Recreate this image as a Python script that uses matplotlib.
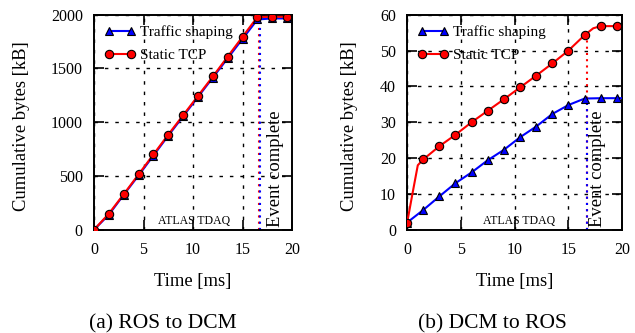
import matplotlib.pyplot as plt
import numpy as np

plt.rcParams['font.family'] = ['Liberation Serif', 'DejaVu Serif']

# marker times (ms)
t_mark = [0, 1.5, 3, 4.5, 6, 7.5, 9, 10.5, 12, 13.5, 15, 16.5, 18, 19.5]

# (a) ROS to DCM
a_shaping = [0, 140, 325, 505, 690, 875, 1055, 1235, 1415, 1595, 1775, 1955, 1965, 1965]
a_static = [0, 150, 330, 515, 700, 885, 1065, 1245, 1425, 1610, 1795, 1978, 1980, 1980]

# (b) DCM to ROS
b_shaping = [2.0, 5.5, 9.3, 13.0, 16.0, 19.4, 22.3, 25.8, 28.8, 32.3, 34.8, 36.6, 36.7, 36.7]
b_static = [1.8, 19.6, 23.3, 26.5, 30.0, 33.2, 36.4, 39.7, 43.0, 46.4, 50.0, 54.3, 56.8, 56.8]
# extra line points for the fast start of static TCP in (b)
b_static_t_line = [0, 0.5, 1.0, 1.5, 3, 4.5, 6, 7.5, 9, 10.5, 12, 13.5, 15, 16.5, 17.3, 18, 19.5, 20]
b_static_line = [1.8, 10.0, 18.0, 19.6, 23.3, 26.5, 30.0, 33.2, 36.4, 39.7, 43.0, 46.4, 50.0, 54.3, 56.2, 56.8, 56.8, 56.8]

panels = [
    dict(shaping=a_shaping, static=a_static, st_t=t_mark + [20], st_y=a_static + [a_static[-1]],
         ylim=(0, 2000), yticks=[0, 500, 1000, 1500, 2000], caption='(a) ROS to DCM',
         ev_red=16.65, ev_blue=16.8, ev_text=17.45, atlas=10.1, ylab_x=-0.366, cap_x=0.257),
    dict(shaping=b_shaping, static=b_static, st_t=b_static_t_line, st_y=b_static_line,
         ylim=(0, 60), yticks=[0, 10, 20, 30, 40, 50, 60], caption='(b) DCM to ROS',
         ev_red=16.7, ev_blue=16.7, ev_text=16.95, atlas=10.4, ylab_x=-0.267, cap_x=0.775),
]

fig = plt.figure(figsize=(6.35, 3.33), dpi=100)
axes_pos = [[0.148, 0.31, 0.312, 0.646], [0.641, 0.31, 0.339, 0.646]]

for pos, p in zip(axes_pos, panels):
    ax = fig.add_axes(pos)
    ax.grid(True, color='black', linestyle=(0, (2.5, 5)), linewidth=1.0)
    ax.set_axisbelow(True)

    sh_t = t_mark + [20]
    sh_y = p['shaping'] + [p['shaping'][-1]]
    ax.plot(sh_t, sh_y, color='#0000ff', lw=1.5, zorder=3)
    ax.plot(t_mark, p['shaping'], ls='none', marker='^', ms=6, mfc='#0000ff', mec='black',
            mew=0.8, zorder=4)
    ax.plot(p['st_t'], p['st_y'], color='#ff0000', lw=1.5, zorder=3)
    ax.plot(t_mark, p['static'], ls='none', marker='o', ms=6, mfc='#ff0000', mec='black',
            mew=0.8, zorder=4)

    # legend proxies
    ax.plot([], [], color='#0000ff', lw=1.5, marker='^', ms=6, mfc='#0000ff', mec='black',
            mew=0.8, label='Traffic shaping')
    ax.plot([], [], color='#ff0000', lw=1.5, marker='o', ms=6, mfc='#ff0000', mec='black',
            mew=0.8, label='Static TCP')
    ax.legend(loc='upper left', frameon=False, numpoints=2, fontsize=11, handlelength=2.0,
              handletextpad=0.3, borderaxespad=0.3, labelspacing=0.6)

    # event complete markers
    top_red = np.interp(p['ev_red'], p['st_t'], p['st_y'])
    top_blue = np.interp(p['ev_blue'], sh_t, sh_y)
    ax.plot([p['ev_red']] * 2, [p['ylim'][0], top_red], color='#ff0000', lw=1.5,
            ls=(0, (1, 2)), zorder=2)
    ax.plot([p['ev_blue']] * 2, [p['ylim'][0], top_blue], color='#0000ff', lw=1.5,
            ls=(0, (1, 2)), zorder=2)
    ax.text(p['ev_text'], p['ylim'][0] + 0.012 * (p['ylim'][1] - p['ylim'][0]), 'Event complete',
            rotation=90, ha='left', va='bottom', fontsize=13.4)
    ax.text(p['atlas'], p['ylim'][0] + 0.015 * (p['ylim'][1] - p['ylim'][0]), 'ATLAS TDAQ',
            ha='center', va='bottom', fontsize=8.5)

    ax.set_xlim(0, 20)
    ax.set_ylim(*p['ylim'])
    ax.set_xticks([0, 5, 10, 15, 20])
    ax.set_yticks(p['yticks'])
    ax.tick_params(direction='in', top=True, right=True, labelsize=11.5, length=7, width=1.2)
    ax.tick_params(axis='x', pad=9)
    ax.tick_params(axis='y', pad=8)
    for s in ax.spines.values():
        s.set_linewidth(1.4)
    ax.set_xlabel('Time [ms]', fontsize=13.4)
    ax.xaxis.set_label_coords(0.5, -0.2)
    ax.set_ylabel('Cumulative bytes [kB]', fontsize=13.4, va='center')
    ax.yaxis.set_label_coords(p['ylab_x'], 0.48)
    fig.text(p['cap_x'], 0.027, p['caption'], ha='center', va='center', fontsize=15.5)

fig.savefig('out.png', dpi=100)
